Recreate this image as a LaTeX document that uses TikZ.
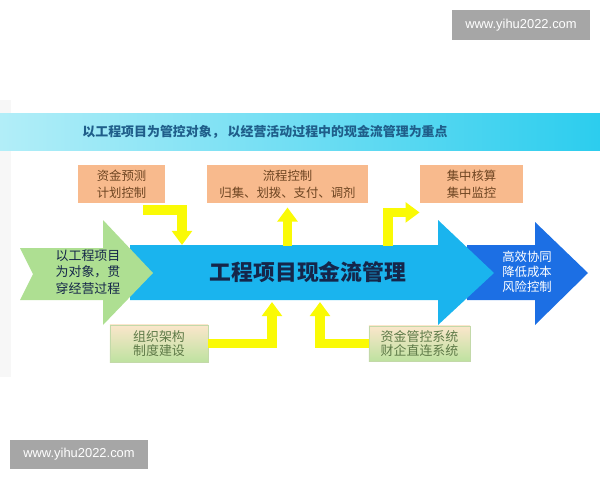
\documentclass[tikz,border=0pt]{standalone}
\usepackage{fontspec}
\setmainfont{Noto Sans CJK SC}
\newfontfamily\wmfont{Liberation Sans}
\usetikzlibrary{arrows.meta}

\definecolor{bandL}{HTML}{B2EEF8}
\definecolor{bandR}{HTML}{2CCDEE}
\definecolor{bandtext}{HTML}{1F5E8A}
\definecolor{peach}{HTML}{F8BA8D}
\definecolor{peachtext}{HTML}{6E4522}
\definecolor{flowyellow}{HTML}{FAFA05}
\definecolor{maincyan}{HTML}{1AB4EE}
\definecolor{deepblue}{HTML}{1C6FE4}
\definecolor{leafgreen}{HTML}{AEDF92}
\definecolor{navytext}{HTML}{15264A}
\definecolor{boxtop}{HTML}{FBE6CB}
\definecolor{boxbot}{HTML}{BEE2A0}
\definecolor{boxline}{HTML}{C3D9A9}
\definecolor{boxtext}{HTML}{5E7A48}
\definecolor{wmgray}{HTML}{A6A6A6}

\begin{document}
\begin{tikzpicture}[x=0.025cm, y=-0.025cm,
    obox/.style={fill=peach, text=peachtext, inner sep=0pt, minimum height=0.95cm,
      align=center, font=\fontsize{8.8}{12}\selectfont},
    gbox/.style={draw=boxline, top color=boxtop, bottom color=boxbot, text=boxtext,
      inner sep=0pt, align=center, font=\fontsize{9.2}{10.2}\selectfont},
    flow/.style={draw=flowyellow, line width=7pt, -{Triangle[width=14pt,length=10pt]}},
    wmark/.style={fill=wmgray, text=white, minimum width=3.45cm, minimum height=0.73cm,
      font=\wmfont\fontsize{9.2}{10}\selectfont}]
    \useasboundingbox (0, 0) rectangle (600, 480);
    \fill[gray!6] (0, 100) rectangle (11, 377);

    % banner
    \shade[left color=bandL, right color=bandR] (0, 113) rectangle (600, 150);
    \node[text=bandtext, font=\fontsize{9.2}{11}\selectfont\bfseries] (motto) at (265, 132)
      {以工程项目为管控对象， 以经营活动过程中的现金流管理为重点};

    % arrows
    \fill[deepblue] (467, 245) -- (535, 245) -- (535, 222) -- (588, 273)
      -- (535, 325) -- (535, 300) -- (467, 300) -- cycle;
    \fill[maincyan] (130, 245) -- (438, 245) -- (438, 220) -- (494, 273)
      -- (438, 325) -- (438, 300) -- (130, 300) -- cycle;
    \fill[leafgreen] (20, 248) -- (103, 248) -- (103, 220) -- (153, 273)
      -- (103, 325) -- (103, 300) -- (20, 300) -- (33, 274) -- cycle;

    \node[text=navytext, font=\fontsize{15.5}{18}\selectfont\bfseries] (core) at (308, 272)
      {工程项目现金流管理};
    \node[text=navytext, align=center, font=\fontsize{9.2}{11.7}\selectfont] (scope) at (88, 272)
      {以工程项目\\为对象，贯\\穿经营过程};
    \node[text=white, align=center, font=\fontsize{8.8}{10.7}\selectfont] (goal) at (527, 272)
      {高效协同\\降低成本\\风险控制};

    % boxes
    \node[obox, minimum width=2.18cm] (plan) at (121.5, 184) {资金预测\\计划控制};
    \node[obox, minimum width=4.03cm] (proc) at (287.5, 184) {流程控制\\归集、划拨、支付、调剂};
    \node[obox, minimum width=2.58cm] (audit) at (471.5, 184) {集中核算\\集中监控};
    \node[gbox, minimum width=2.45cm, minimum height=0.93cm] (org) at (159, 343.5) {组织架构\\制度建设};
    \node[gbox, minimum width=2.53cm, minimum height=0.88cm] (sys) at (419.5, 343.5) {资金管控系统\\财企直连系统};

    % yellow flows
    \coordinate (planout) at (143, 210);
    \coordinate (planin) at (182, 245);
    \coordinate (procout) at (287.5, 246);
    \coordinate (auditout) at (388, 246);
    \coordinate (orgin) at (272, 302);
    \coordinate (sysin) at (320, 302);
    \draw[flow] (planout) -| (planin);
    \draw[flow] (procout) -- ([yshift=-3pt]proc.south);
    \draw[flow] (auditout) |- ([yshift=-6.5pt]audit.south west);
    \draw[flow] (org.east) -| (orgin);
    \draw[flow] (sys.west) -| (sysin);

    % watermarks
    \node[wmark] (wmtop) at (521, 25) {www.yihu2022.com};
    \node[wmark] (wmbot) at (79, 454.5) {www.yihu2022.com};
  \end{tikzpicture}
\end{document}
